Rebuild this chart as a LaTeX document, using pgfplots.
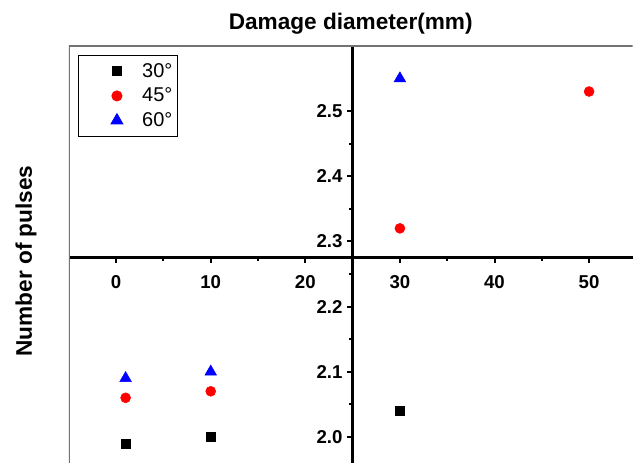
\documentclass[border=0pt]{standalone}
\usepackage{pgfplots}
\pgfplotsset{compat=1.18}
\usepackage{fontspec}
\setmainfont{Liberation Sans}

\begin{document}
\begin{tikzpicture}
\begin{axis}[
    name=ax,
    scale only axis,
    width=423.75pt, height=313.5pt,
    xmin=-5, xmax=54.6,
    ymin=1.96, ymax=2.6,
    axis x line=bottom, axis y line=left,
    axis x line shift=-154.3pt,
    axis y line shift=-213.2pt,
    axis line style={-, line width=2.1pt, black},
    xtick={0,10,20,30,40,50},
    ytick={2.0,2.1,2.2,2.3,2.4,2.5},
    minor x tick num=1, minor y tick num=1,
    tick align=outside,
    major tick length=4pt, minor tick length=2.5pt,
    every tick/.style={black, line width=1.5pt},
    tick label style={font=\fontsize{14}{16}\selectfont\bfseries},
    xticklabel style={yshift=-6pt},
    /pgf/number format/assume math mode=true,
    yticklabel style={/pgf/number format/.cd, fixed, fixed zerofill, precision=1},
    title={Damage diameter(mm)},
    title style={at={(rel axis cs:0.5,1)}, anchor=base, yshift=6pt,
                 font=\fontsize{17}{20}\selectfont\bfseries},
    ylabel={Number of pulses},
    ylabel style={at={(rel axis cs:-0.0655,0.4844)}, anchor=base,
                  font=\fontsize{17}{20}\selectfont\bfseries},
    legend style={at={(rel axis cs:0,1)}, anchor=north west,
                  xshift=6.75pt, yshift=-6.75pt,
                  draw=black, line width=0.8pt,
                  inner xsep=0pt, inner ysep=6pt, row sep=6.5pt,
                  font=\fontsize{15}{18}\selectfont,
                  nodes={inner xsep=4pt, inner ysep=0pt}},
    legend cell align=left,
    legend image code/.code={
        \path[draw=none] (0,0) -- (44pt,0);
        \draw[#1] plot coordinates {(29pt,0pt)};
    },
]
\addplot[only marks, mark=square*, mark size=3.3pt, black]
  coordinates {(1,1.99) (10,2.00) (30,2.04)};
\addlegendentry{30°}
\addplot[only marks, mark=*, mark size=3.75pt, red, mark options={fill=red, draw=red}]
  coordinates {(1,2.06) (10,2.07) (30,2.32) (50,2.53)};
\addlegendentry{45°}
\addplot[only marks, mark=triangle*, mark size=5pt, blue, mark options={fill=blue, draw=blue}]
  coordinates {(1,2.09) (10,2.10) (30,2.55)};
\addlegendentry{60°}
\draw[gray!90!black, line width=1pt] (rel axis cs:0,0) -- (rel axis cs:0,1) -- (rel axis cs:1,1);
\end{axis}
\path (ax.south west) ++(-51.75pt,0pt);
\path (ax.north east) ++(0pt,34.5pt);
\end{tikzpicture}
\end{document}
